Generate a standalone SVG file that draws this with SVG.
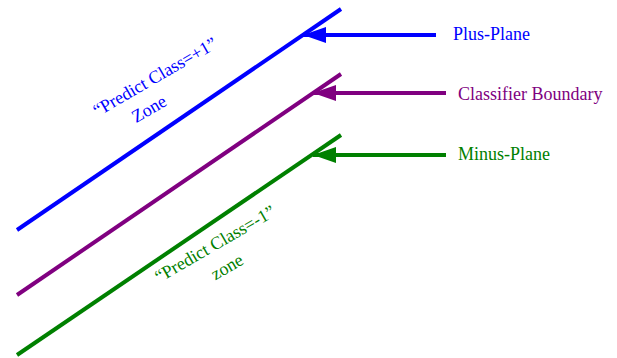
<svg xmlns="http://www.w3.org/2000/svg" width="617" height="358" viewBox="0 0 617 358">
<style>
.ln{stroke-width:4;stroke-linecap:butt;fill:none}
.t{font-family:"Liberation Serif","Times New Roman",serif;font-size:18px}
</style>
<defs>
<marker id="ahB" markerUnits="userSpaceOnUse" markerWidth="24" markerHeight="18" viewBox="0 -9 24 18" refX="23" refY="0" orient="auto"><path d="M0,-8 L23,0 L0,8 z" fill="#0000FF"/></marker>
<marker id="ahP" markerUnits="userSpaceOnUse" markerWidth="24" markerHeight="18" viewBox="0 -9 24 18" refX="23" refY="0" orient="auto"><path d="M0,-8 L23,0 L0,8 z" fill="#800080"/></marker>
<marker id="ahG" markerUnits="userSpaceOnUse" markerWidth="24" markerHeight="18" viewBox="0 -9 24 18" refX="23" refY="0" orient="auto"><path d="M0,-8 L23,0 L0,8 z" fill="#008000"/></marker>
</defs>
<rect width="617" height="358" fill="#fff"/>
<g id="plus-plane"><line class="ln" x1="17" y1="230" x2="341" y2="9" stroke="#0000FF"/></g>
<g id="classifier-boundary"><line class="ln" x1="17" y1="295" x2="341" y2="74" stroke="#800080"/></g>
<g id="minus-plane"><line class="ln" x1="17" y1="355" x2="341" y2="135" stroke="#008000"/></g>
<g id="connectors">
<line class="ln" x1="436" y1="35" x2="303" y2="35" stroke="#0000FF" marker-end="url(#ahB)"/>
<line class="ln" x1="446" y1="93" x2="313" y2="93" stroke="#800080" marker-end="url(#ahP)"/>
<line class="ln" x1="446" y1="155" x2="313" y2="155" stroke="#008000" marker-end="url(#ahG)"/>
</g>
<g id="label-plus"><text class="t" x="453" y="40" fill="#0000FF">Plus-Plane</text></g>
<g id="label-boundary"><text class="t" x="458" y="100" fill="#800080">Classifier Boundary</text></g>
<g id="label-minus"><text class="t" x="458" y="160" fill="#008000">Minus-Plane</text></g>
<g id="zone-plus" fill="#0000FF">
<text class="t" text-anchor="middle" transform="translate(158,82) rotate(-30)">“Predict Class=+1”</text>
<text class="t" text-anchor="middle" transform="translate(152,114) rotate(-30)">Zone</text>
</g>
<g id="zone-minus" fill="#008000">
<text class="t" text-anchor="middle" transform="translate(218,249) rotate(-30)">“Predict Class=-1”</text>
<text class="t" text-anchor="middle" transform="translate(230,272) rotate(-30)">zone</text>
</g>
</svg>
